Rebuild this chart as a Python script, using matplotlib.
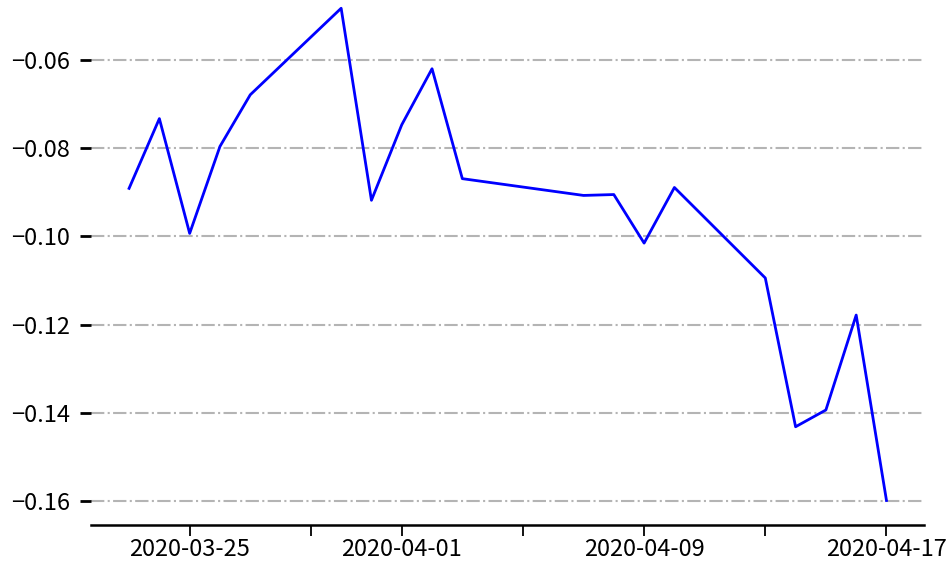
import matplotlib
matplotlib.use("Agg")
import matplotlib.pyplot as plt
import matplotlib.dates as mdates
import pandas as pd

plt.rcParams['font.family'] = ['Noto Sans CJK SC', 'DejaVu Sans']

# daily values
dates = pd.to_datetime([
    '2020-03-23', '2020-03-24', '2020-03-25', '2020-03-26', '2020-03-27',
    '2020-03-30', '2020-03-31', '2020-04-01', '2020-04-02', '2020-04-03',
    '2020-04-07', '2020-04-08', '2020-04-09', '2020-04-10',
    '2020-04-13', '2020-04-14', '2020-04-15', '2020-04-16', '2020-04-17',
])
values = [
    -0.0891, -0.0733, -0.0993, -0.0796, -0.0679,
    -0.0483, -0.0918, -0.0747, -0.0620, -0.0869,
    -0.0907, -0.0905, -0.1015, -0.0889,
    -0.1094, -0.1431, -0.1393, -0.1178, -0.1598,
]

tick_dates = pd.to_datetime(['2020-03-25', '2020-03-29', '2020-04-01', '2020-04-05',
                             '2020-04-09', '2020-04-13', '2020-04-17'])
tick_labels = ['2020-03-25', '', '2020-04-01', '', '2020-04-09', '', '2020-04-17']
y_ticks = [-0.06, -0.08, -0.10, -0.12, -0.14, -0.16]

fig = plt.figure(figsize=(9.5, 5.64), dpi=100)
ax = fig.add_axes([0.096, 0.069, 0.877, 0.96])

ax.plot(dates, values, color='#0000ff', linewidth=2)

ax.set_xticks(mdates.date2num(tick_dates))
ax.set_xticklabels(tick_labels)
ax.set_yticks(y_ticks)
ax.set_yticklabels([('%.2f' % v).replace('-', '\u2212') for v in y_ticks])

ax.grid(axis='y', linestyle='-.', color='#b4b4b4', linewidth=1.5)
ax.set_axisbelow(True)

for side in ['top', 'right', 'left']:
    ax.spines[side].set_visible(False)
ax.spines['bottom'].set_linewidth(1.8)

ax.tick_params(axis='x', length=8, width=1.3, labelsize=17, pad=1)
ax.tick_params(axis='y', length=8, width=2, labelsize=17, pad=7)

fig.savefig('out.png', dpi=100)
